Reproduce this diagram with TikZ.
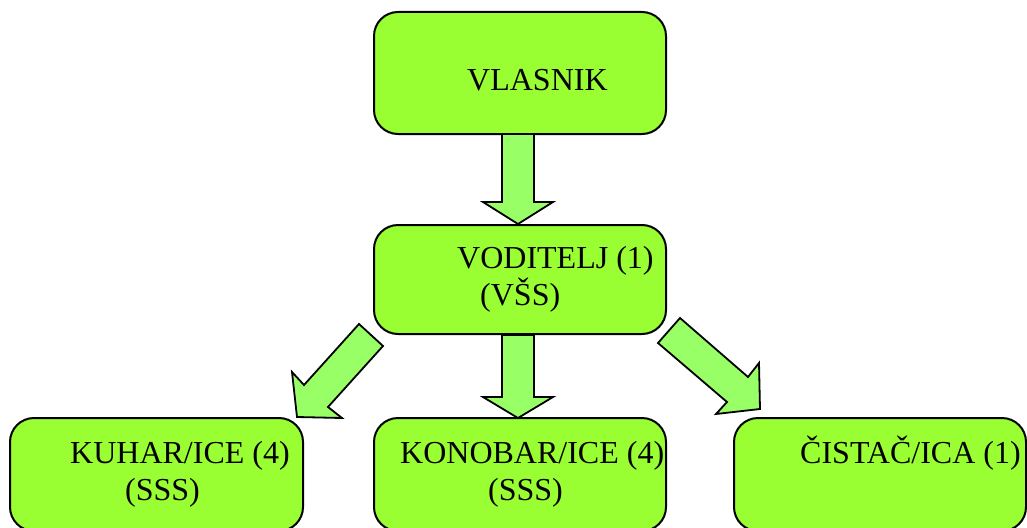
\documentclass[tikz,border=0pt]{standalone}
\usepackage{fontspec}
\setmainfont{Liberation Serif}
\definecolor{boxgreen}{RGB}{153,255,51}
\definecolor{arrowgreen}{RGB}{153,255,102}
\begin{document}
\begin{tikzpicture}[x=1pt,y=-1pt,
  box/.style={draw=black,line width=2pt,fill=boxgreen,rounded corners=24pt},
  blockarrow/.style={draw=black,line width=1.8pt,fill=arrowgreen,line join=miter},
  lbl/.style={anchor=base west,inner sep=0pt,font=\fontsize{32}{38}\selectfont}]
\clip (0,0) rectangle (1027,527);
% boxes
\draw[box] (374,12) rectangle (666,134);
\draw[box] (374,225) rectangle (666,334);
\draw[box] (10,418) rectangle (303,531);
\draw[box] (374,418) rectangle (666,531);
\draw[box] (734,418) rectangle (1026,531);
% arrows
\draw[blockarrow] (502,134) -- (534,134) -- (534,202) -- (553,202) -- (518,224) -- (483,202) -- (502,202) -- cycle;
\draw[blockarrow] (502,335) -- (534,335) -- (534,397) -- (553,397) -- (518,418) -- (483,397) -- (502,397) -- cycle;
\draw[blockarrow] (359,324) -- (383,346) -- (328,407) -- (342,418) -- (297,417) -- (292,372) -- (304,385) -- cycle;
\draw[blockarrow] (680,318) -- (658,343) -- (727,402) -- (716,414) -- (760,409) -- (759,363) -- (748,377) -- cycle;
% labels
\node[lbl] (vlasnik) at (467,90) {VLASNIK};
\node[lbl] (vod1) at (457,268) {VODITELJ (1)};
\node[lbl] (vod2) at (480,305) {(VŠS)};
\node[lbl] (kuh1) at (70,463) {KUHAR/ICE (4)};
\node[lbl] (kuh2) at (125,500) {(SSS)};
\node[lbl] (kon1) at (400,463) {KONOBAR/ICE (4)};
\node[lbl] (kon2) at (488,500) {(SSS)};
\node[lbl] (cis1) at (800,463) {ČISTAČ/ICA (1)};
\end{tikzpicture}
\end{document}
